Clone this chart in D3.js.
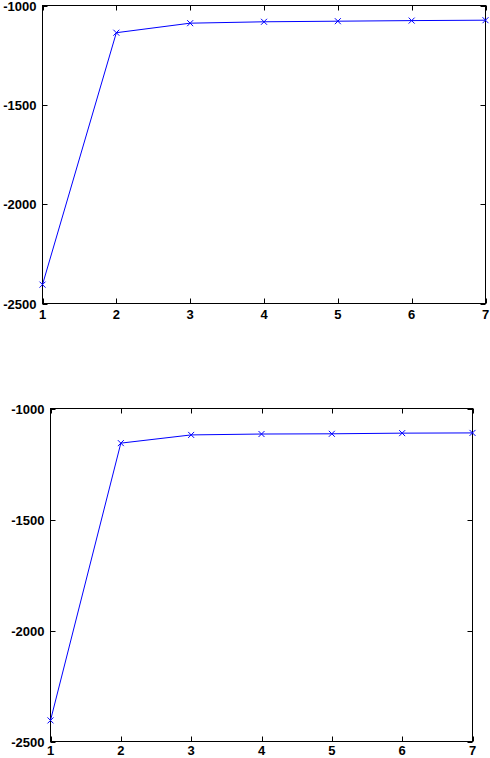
<!DOCTYPE html>
<html>
<head>
<meta charset="utf-8">
<script src="https://cdn.jsdelivr.net/npm/d3@7"></script>
<style>
html,body{margin:0;padding:0;background:#fff;}
svg{display:block;}
text{font-family:"Liberation Sans",Arial,Helvetica,sans-serif;font-weight:bold;font-size:13px;fill:#000;}
</style>
</head>
<body>
<svg id="chart" width="490" height="758"></svg>
<script>
// Data
const iterations = [1, 2, 3, 4, 5, 6, 7];
const topValues = [-2405, -1137, -1089, -1082, -1079, -1076, -1074];
const bottomValues = [-2405, -1156, -1119, -1115, -1114, -1111, -1110];
const xTicks = [1, 2, 3, 4, 5, 6, 7];
const yTicks = [-2500, -2000, -1500, -1000];

const svg = d3.select("#chart");

function panel(values, box) {
  const x = d3.scaleLinear().domain([1, 7]).range([box.left, box.right]);
  const y = d3.scaleLinear().domain([-2500, -1000]).range([box.bottom, box.top]);
  const g = svg.append("g");
  const tl = 5;

  // frame
  g.append("rect")
    .attr("x", box.left).attr("y", box.top)
    .attr("width", box.right - box.left).attr("height", box.bottom - box.top)
    .attr("fill", "none").attr("stroke", "#000").attr("stroke-width", 1);

  // x ticks (bottom & top, inward)
  xTicks.forEach(t => {
    const px = Math.round(x(t)) + 0.5;
    g.append("line").attr("x1", px).attr("x2", px).attr("y1", box.bottom).attr("y2", box.bottom - tl).attr("stroke", "#000");
    g.append("line").attr("x1", px).attr("x2", px).attr("y1", box.top).attr("y2", box.top + tl).attr("stroke", "#000");
    g.append("text").attr("x", x(t)).attr("y", box.bottom + box.xLabelDy)
      .attr("text-anchor", "middle").text(t);
  });

  // y ticks (left & right, inward)
  yTicks.forEach(t => {
    const py = Math.round(y(t)) + 0.5;
    g.append("line").attr("x1", box.left).attr("x2", box.left + tl).attr("y1", py).attr("y2", py).attr("stroke", "#000");
    g.append("line").attr("x1", box.right).attr("x2", box.right - tl).attr("y1", py).attr("y2", py).attr("stroke", "#000");
    g.append("text").attr("x", box.left - 6).attr("y", y(t) + 5)
      .attr("text-anchor", "end").text(t);
  });

  const data = iterations.map((d, i) => [d, values[i]]);
  g.append("path")
    .datum(data)
    .attr("fill", "none").attr("stroke", "#0000ff").attr("stroke-width", 1)
    .attr("d", d3.line().x(d => x(d[0])).y(d => y(d[1])));

  const s = 3;
  g.selectAll(".mk").data(data).enter().append("path")
    .attr("fill", "none").attr("stroke", "#0000ff").attr("stroke-width", 1)
    .attr("d", d => {
      const cx = x(d[0]), cy = y(d[1]);
      return `M${cx - s},${cy - s}L${cx + s},${cy + s}M${cx - s},${cy + s}L${cx + s},${cy - s}`;
    });
}

panel(topValues, {left: 42.5, right: 485.5, top: 5.5, bottom: 303.5, xLabelDy: 15.5});
panel(bottomValues, {left: 50.5, right: 472.5, top: 408.5, bottom: 741.5, xLabelDy: 13.5});
</script>
</body>
</html>
